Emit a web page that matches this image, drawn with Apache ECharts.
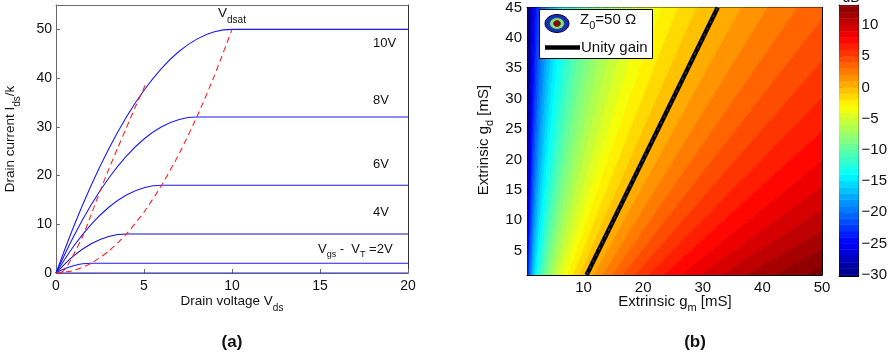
<!DOCTYPE html>
<html>
<head>
<meta charset="utf-8">
<script src="https://cdn.jsdelivr.net/npm/echarts@6/dist/echarts.min.js"></script>
<style>
  html, body { margin: 0; padding: 0; background: #fff; }
  #chart { width: 890px; height: 359px; }
</style>
</head>
<body>
<div id="chart"></div>
<script>
// ---------- (a) drain characteristics, Ids/k versus Vds ----------
const vdsTicks = [0, 5, 10, 15, 20];
const idsTicks = [0, 10, 20, 30, 40, 50];

// one curve per overdrive Vgs - VT, [Vds, Ids/k]
const curve10V = [[0, 0], [1, 9.5], [2, 18], [3, 25.5], [4, 32], [5, 37.5], [6, 42], [7, 45.5], [8, 48], [9, 49.5], [10, 50], [20, 50]];
const curve8V = [[0, 0], [1, 7.5], [2, 14], [3, 19.5], [4, 24], [5, 27.5], [6, 30], [7, 31.5], [8, 32], [20, 32]];
const curve6V = [[0, 0], [1, 5.5], [2, 10], [3, 13.5], [4, 16], [5, 17.5], [6, 18], [20, 18]];
const curve4V = [[0, 0], [1, 3.5], [2, 6], [3, 7.5], [4, 8], [20, 8]];
const curve2V = [[0, 0], [0.5, 0.9], [1, 1.5], [1.5, 1.9], [2, 2], [20, 2]];
const curve0V = [[0, 0], [20, 0]];

// Vdsat loci (dashed)
const vdsatParabola = [[0, 0], [1, 0.5], [2, 2], [3, 4.5], [4, 8], [5, 12.5], [6, 18], [7, 24.5], [8, 32], [9, 40.5], [10, 50]];
const vdsatSteep = [[0.3, 0], [0.6, 1.2], [1, 3.8], [1.5, 7.4], [2, 12], [2.5, 16.8], [3, 21.3], [3.5, 25.6], [4, 29.8], [4.5, 34], [5.1, 38.8]];

// ---------- (b) gain map over extrinsic gm / gd ----------
const gmTicks = [10, 20, 30, 40, 50];
const gdTicks = [5, 10, 15, 20, 25, 30, 35, 40, 45];
const dbTicks = [-30, -25, -20, -15, -10, -5, 0, 5, 10];
const dbRange = [-30.2, 13.2];

// contour levels (dB) and where each iso-gain line meets gd = 1 mS and gd = 45 mS
const isoGdLow = 1;
const isoGdHigh = 45;
const gainLevels = [-31, -30, -29, -28, -27, -26, -25, -24, -23, -22, -21, -20, -19, -18, -17, -16, -15, -14, -13, -12, -11, -10, -9, -8, -7, -6, -5, -4, -3, -2, -1, 0, 1, 2, 3, 4, 5, 6, 7, 8, 9, 10, 11, 12, 13, 14];
const isoGmAtGdLow = [0.30, 0.33, 0.37, 0.42, 0.47, 0.53, 0.59, 0.66, 0.74, 0.83, 0.94, 1.05, 1.18, 1.32, 1.48, 1.66, 1.87, 2.10, 2.35, 2.64, 2.96, 3.32, 3.73, 4.18, 4.69, 5.26, 5.90, 6.63, 7.43, 8.34, 9.36, 10.5, 11.78, 13.22, 14.84, 16.64, 18.67, 20.95, 23.51, 26.38, 29.59, 33.20, 37.25, 41.80, 46.90, 52.63];
const isoGmAtGdHigh = [0.92, 1.03, 1.15, 1.29, 1.45, 1.63, 1.83, 2.05, 2.30, 2.58, 2.90, 3.25, 3.65, 4.09, 4.59, 5.15, 5.78, 6.48, 7.28, 8.16, 9.16, 10.28, 11.53, 12.94, 14.52, 16.29, 18.28, 20.51, 23.01, 25.82, 28.97, 32.5, 36.47, 40.92, 45.92, 51.51, 57.79, 64.84, 72.77, 81.64, 91.59, 102.8, 115.3, 129.4, 145.2, 162.9];
const unityGain = [[10.5, 1], [32.5, 45]];

// ---------- helpers ----------
const FONT = 'Liberation Sans, Arial, Helvetica, sans-serif';

function jet(v) {
  let t = (v - dbRange[0]) / (dbRange[1] - dbRange[0]);
  t = Math.max(0, Math.min(1, t));
  const c = x => Math.round(255 * Math.max(0, Math.min(1, x)));
  return 'rgb(' + c(1.5 - Math.abs(4 * t - 3)) + ',' + c(1.5 - Math.abs(4 * t - 2)) + ',' + c(1.5 - Math.abs(4 * t - 1)) + ')';
}

// band i lies between level i and level i+1; an extra band fills left of the lowest line
const bandData = [[0, isoGmAtGdLow[0], 0, isoGmAtGdHigh[0], gainLevels[0] - 1]];
for (let i = 0; i < gainLevels.length - 1; i++) {
  bandData.push([isoGmAtGdLow[i], isoGmAtGdLow[i + 1], isoGmAtGdHigh[i], isoGmAtGdHigh[i + 1], gainLevels[i]]);
}
const barData = [];
for (let i = 0; i < gainLevels.length - 1; i++) barData.push([gainLevels[i], gainLevels[i + 1]]);

function subRich(size, sizeSub, color) {
  return {
    n: { fontSize: size, fontFamily: FONT, color: color, verticalAlign: 'bottom', lineHeight: size + 2, padding: [0, 0, 4, 0] },
    s: { fontSize: sizeSub, fontFamily: FONT, color: color, verticalAlign: 'bottom', lineHeight: sizeSub + 1 }
  };
}
function richText(x, y, text, size, opts) {
  opts = opts || {};
  return {
    type: 'text', x: x, y: y, rotation: opts.rotation || 0, silent: true,
    style: {
      text: text, rich: subRich(size, opts.subSize || Math.round(size * 0.72), opts.color || '#111'),
      align: opts.align || 'left', verticalAlign: opts.valign || 'middle',
      fontSize: size, fontFamily: FONT, fill: opts.color || '#111'
    }
  };
}
function plainText(x, y, text, size, extra) {
  return {
    type: 'text', x: x, y: y, silent: true,
    style: Object.assign({ text: text, fontSize: size, fontFamily: FONT, fill: '#111', verticalAlign: 'middle' }, extra || {})
  };
}

function valueAxis(grid, pos, min, max, opt) {
  opt = opt || {};
  return {
    type: 'value', gridIndex: grid, position: pos, min: min, max: max,
    axisLine: { show: true, onZero: false, lineStyle: { color: opt.lineColor || '#000', width: 1 } },
    axisTick: opt.ticks ? { show: true, inside: true, length: 4, customValues: opt.ticks, lineStyle: { color: opt.lineColor || '#000' } } : { show: false },
    axisLabel: opt.labels ? {
      show: true, customValues: opt.ticks, fontSize: opt.fontSize || 13, fontFamily: FONT, color: '#111',
      margin: opt.margin || 5, formatter: v => String(v).replace('-', '\u2212')
    } : { show: false },
    splitLine: { show: false }
  };
}

function lineSeries(data, color, width, dashed, z) {
  return {
    type: 'line', xAxisIndex: 0, yAxisIndex: 0, data: data, showSymbol: false, symbol: 'none',
    smooth: dashed ? 0.2 : 0.3, silent: true, z: z || 2, animation: false,
    lineStyle: { color: color, width: width, type: dashed ? [6, 4] : 'solid' }
  };
}

const chart = echarts.init(document.getElementById('chart'), null, { renderer: 'canvas' });

const option = {
  animation: false,
  backgroundColor: '#fff',
  grid: [
    { left: 56, top: 5, width: 352, height: 268 },
    { left: 527, top: 5, width: 295, height: 270 },
    { left: 839, top: 5, width: 23, height: 271 }
  ],
  xAxis: [
    valueAxis(0, 'bottom', 0, 20, { ticks: vdsTicks, labels: true, lineColor: '#6a6a6a', fontSize: 14, margin: 6 }),
    valueAxis(0, 'top', 0, 20, { lineColor: '#6a6a6a' }),
    valueAxis(1, 'bottom', 0.5, 50, { ticks: gmTicks, labels: true, fontSize: 15, margin: 5 }),
    valueAxis(1, 'top', 0.5, 50, { ticks: gmTicks }),
    valueAxis(2, 'bottom', 0, 1, {}),
    valueAxis(2, 'top', 0, 1, {})
  ],
  yAxis: [
    valueAxis(0, 'left', 0, 55, { ticks: idsTicks, labels: true, lineColor: '#6a6a6a', fontSize: 14, margin: 4 }),
    valueAxis(0, 'right', 0, 55, { lineColor: '#333' }),
    valueAxis(1, 'left', 1, 45, { ticks: gdTicks, labels: true, fontSize: 15, margin: 5 }),
    valueAxis(1, 'right', 1, 45, { ticks: gdTicks }),
    valueAxis(2, 'left', dbRange[0], dbRange[1], { ticks: dbTicks }),
    valueAxis(2, 'right', dbRange[0], dbRange[1], { ticks: dbTicks, labels: true, fontSize: 15, margin: 3 })
  ],
  series: [
    lineSeries(curve0V, '#2a2af0', 1.2),
    lineSeries(curve2V, '#1a1aff', 1.1),
    lineSeries(curve4V, '#1010c8', 1.1),
    lineSeries(curve6V, '#1a1aff', 1.1),
    lineSeries(curve8V, '#1a1aff', 1.1),
    lineSeries(curve10V, '#1a1aff', 1.1),
    lineSeries(vdsatParabola, '#ff2020', 1.1, true, 3),
    lineSeries(vdsatSteep, '#ff2020', 1.1, true, 3),
    {
      type: 'custom', xAxisIndex: 2, yAxisIndex: 2, data: bandData, clip: true, silent: true,
      encode: { x: [0, 1, 2, 3], y: [] },
      renderItem: function (params, api) {
        const col = jet(api.value(4) + 0.5);
        const pts = [
          api.coord([api.value(0), isoGdLow]),
          api.coord([api.value(1), isoGdLow]),
          api.coord([api.value(3), isoGdHigh]),
          api.coord([api.value(2), isoGdHigh])
        ];
        return { type: 'polygon', shape: { points: pts }, style: { fill: col, stroke: col, lineWidth: 0.8 } };
      }
    },
    {
      type: 'line', xAxisIndex: 2, yAxisIndex: 2, data: unityGain, showSymbol: false, symbol: 'none',
      silent: true, z: 5, lineStyle: { color: '#000', width: 4.5 }
    },
    {
      type: 'line', xAxisIndex: 2, yAxisIndex: 2, data: unityGain, showSymbol: false, symbol: 'none',
      silent: true, z: 6, lineStyle: { color: '#3c3c3c', width: 1.2, type: [3, 4] }
    },
    {
      type: 'custom', xAxisIndex: 4, yAxisIndex: 4, data: barData, clip: true, silent: true,
      encode: { x: [], y: [0, 1] },
      renderItem: function (params, api) {
        const lo = api.value(0), hi = api.value(1);
        const p1 = api.coord([0, hi]);
        const p2 = api.coord([1, lo]);
        const col = jet((lo + hi) / 2);
        return { type: 'rect', shape: { x: p1[0], y: p1[1], width: p2[0] - p1[0], height: p2[1] - p1[1] }, style: { fill: col, stroke: col, lineWidth: 0.5 } };
      }
    }
  ],
  graphic: [
    // (a) titles and curve labels
    richText(14, 139, '{n|Drain current I}{s|ds}{n|/k}', 13.5, { align: 'center', rotation: Math.PI / 2 }),
    richText(232, 305, '{n|Drain voltage V}{s|ds}', 13.5, { align: 'center' }),
    richText(218, 17, '{n|V}{s|dsat}', 13.5),
    plainText(373, 43, '10V', 13),
    plainText(373, 100, '8V', 13),
    plainText(373, 164, '6V', 13),
    plainText(373, 212, '4V', 13),
    richText(318, 252, '{n|V}{s|gs}{n| -  V}{s|T}{n| =2V}', 13),
    plainText(232, 342, '(a)', 17, { fontWeight: 'bold', align: 'center' }),

    // (b) titles
    richText(487, 140, '{n|Extrinsic g}{s|d}{n| [mS]}', 15, { align: 'center', rotation: Math.PI / 2 }),
    richText(675, 305, '{n|Extrinsic g}{s|m}{n| [mS]}', 15, { align: 'center' }),
    plainText(695, 342, '(b)', 17, { fontWeight: 'bold', align: 'center' }),
    plainText(851, -2, 'dB', 14, { align: 'center' }),

    // (b) legend box
    { type: 'rect', silent: true, z: 10, shape: { x: 539.5, y: 9.5, width: 113, height: 49 }, style: { fill: '#fff', stroke: '#000', lineWidth: 1 } },
    { type: 'ellipse', silent: true, z: 11, shape: { cx: 557, cy: 23.5, rx: 12, ry: 9 }, style: { fill: '#1530a8', stroke: '#000050', lineWidth: 1 } },
    { type: 'ellipse', silent: true, z: 11, shape: { cx: 557, cy: 23.5, rx: 7.3, ry: 5.8 }, style: { fill: '#86e07a', stroke: '#2040a0', lineWidth: 0.8 } },
    { type: 'ellipse', silent: true, z: 11, shape: { cx: 557, cy: 23.5, rx: 3.4, ry: 3 }, style: { fill: '#8b0a0a', stroke: '#500000', lineWidth: 0.6 } },
    Object.assign(richText(580, 23, '{n|Z}{s|0}{n|=50 \u03a9}', 15), { z: 11 }),
    { type: 'line', silent: true, z: 11, shape: { x1: 545, y1: 47.5, x2: 580, y2: 47.5 }, style: { stroke: '#000', lineWidth: 4.5 } },
    Object.assign(plainText(581, 48, 'Unity gain', 15), { z: 11 })
  ]
};

chart.setOption(option);
</script>
</body>
</html>
